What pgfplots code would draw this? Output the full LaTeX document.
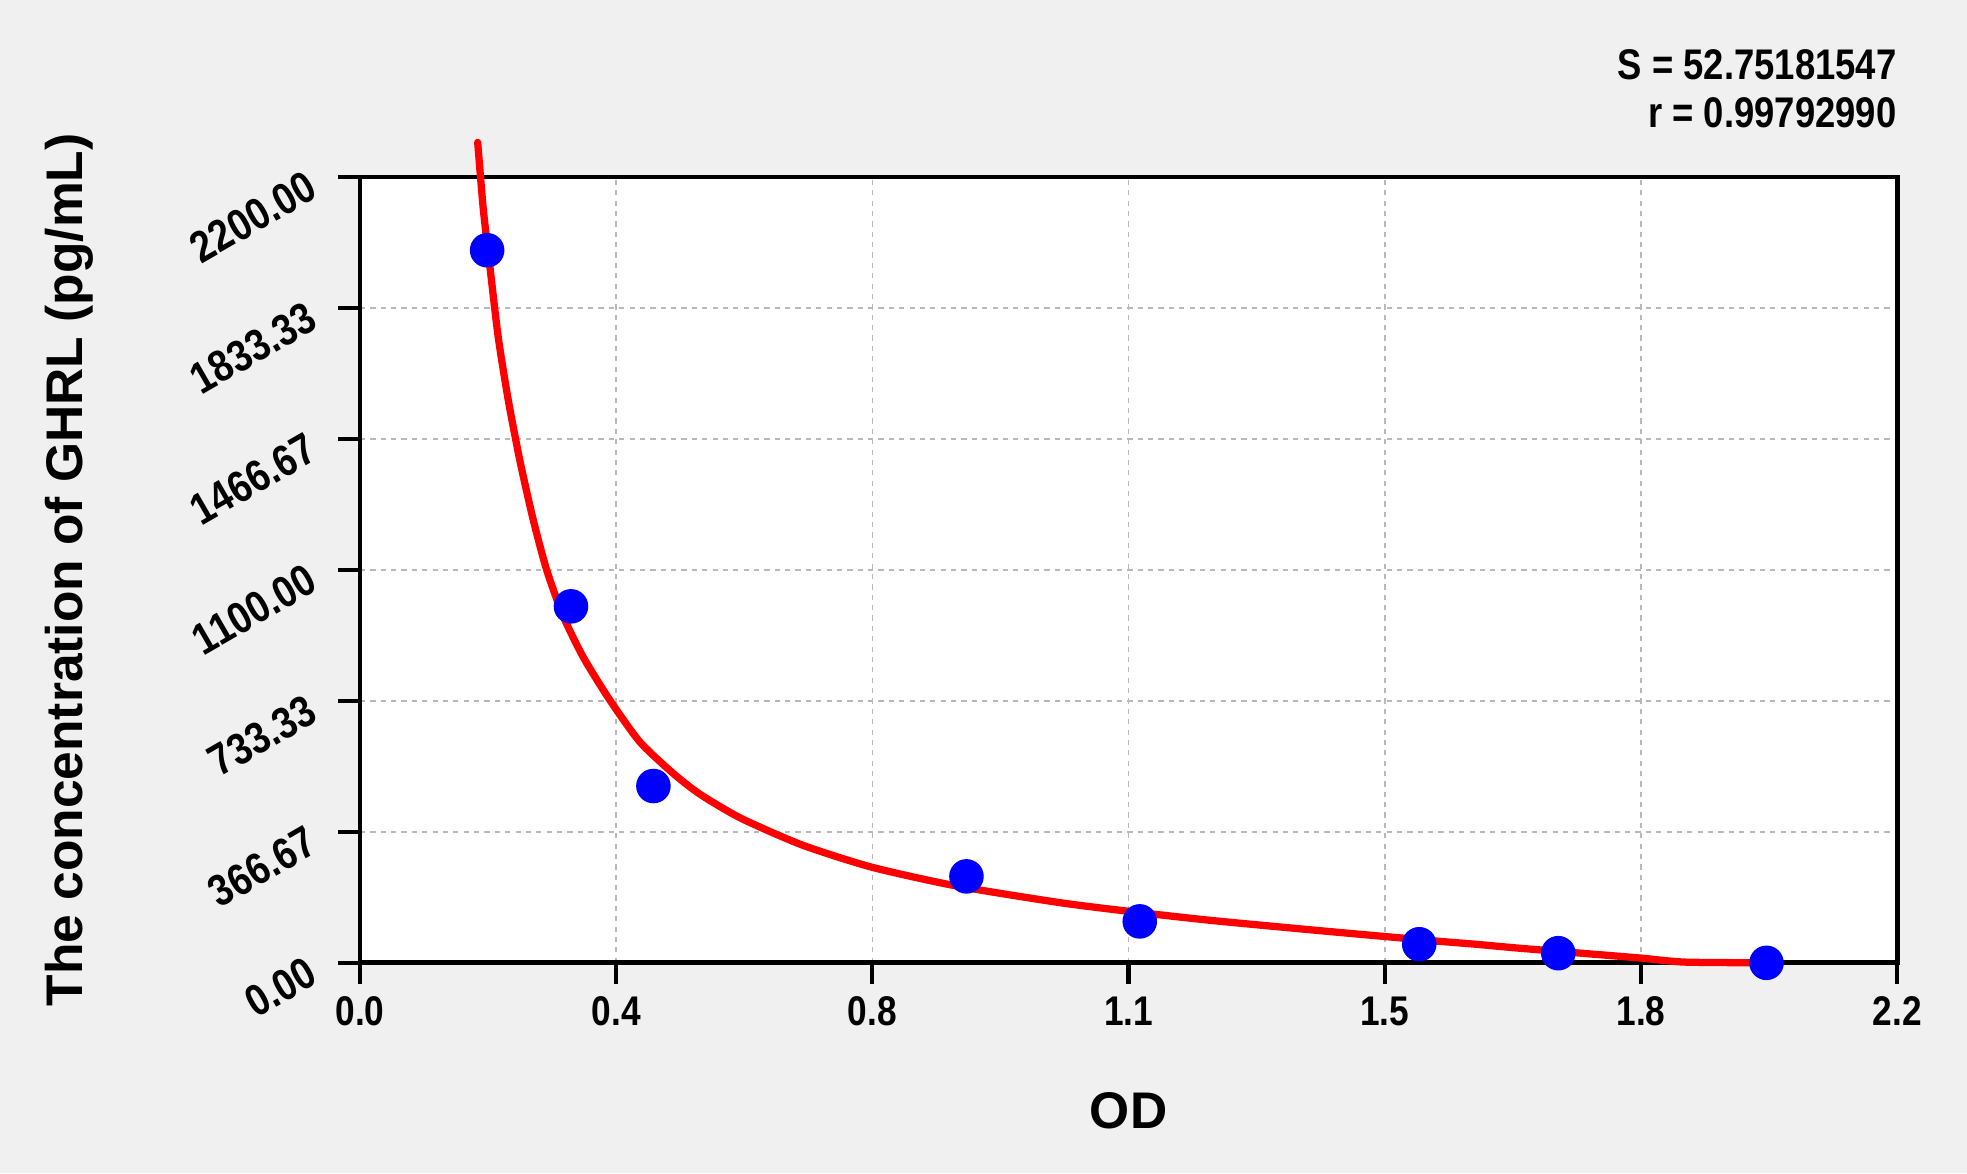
\documentclass[border=0pt]{standalone}
\usepackage{fontspec}
\setmainfont{Liberation Sans}
\newfontfamily\narrowfont[FakeStretch=0.85]{Liberation Sans}
\usepackage{pgfplots}
\pgfplotsset{compat=1.18}
\definecolor{bggray}{HTML}{F0F0F0}
\definecolor{ptblue}{HTML}{0000FF}
\definecolor{fitred}{HTML}{FF0000}

\begin{document}
\begin{tikzpicture}
\path[use as bounding box, fill=bggray] (-3.66,-2.14) rectangle (16.34,9.79);
\begin{axis}[
  at={(0,0)}, anchor=south west,
  width=15.63cm, height=7.99cm, scale only axis,
  xmin=0, xmax=2.2, ymin=0, ymax=2200,
  xtick={0,0.366667,0.733333,1.1,1.466667,1.833333,2.2},
  xticklabels={0.0,0.4,0.8,1.1,1.5,1.8,2.2},
  ytick={0,366.667,733.333,1100,1466.667,1833.333,2200},
  yticklabels={0.00,366.67,733.33,1100.00,1466.67,1833.33,2200.00},
  minor tick num=3,
  tick align=outside, tick pos=left,
  major tick length=0.22cm, minor tick length=0.15cm,
  tick style={black, line width=1.2pt},
  axis line style={black, line width=1.4pt},
  grid=major, grid style={dash pattern=on 1.5pt off 1.5pt, gray!55, line width=0.5pt},
  axis background/.style={fill=white},
  xticklabel style={font=\narrowfont\bfseries\fontsize{12}{14}\selectfont},
  yticklabel style={font=\narrowfont\bfseries\fontsize{12.8}{14}\selectfont, xshift=-0.16cm, rotate=30, anchor=east},
  xlabel={OD},
  ylabel={The concentration of GHRL (pg/mL)},
  label style={font=\bfseries\fontsize{14.9}{16}\selectfont},
  xlabel style={at={(axis description cs:0.5,-0.188)}, anchor=center},
  ylabel style={at={(axis description cs:-0.189,0.5)}, anchor=center},
  clip=false,
]
\addplot[only marks, mark=*, mark size=4.8pt, color=ptblue, mark options={fill=ptblue, draw=ptblue}] coordinates {
  (0.182,1995) (0.302,998) (0.420,495) (0.868,242)
  (1.116,116) (1.516,52) (1.715,27) (2.013,0)
};
\addplot[no marks, smooth, tension=0.4, color=fitred, line width=2.1pt, line join=round, line cap=round] coordinates {
  (0.1685,2297) (0.1765,2110) (0.1861,1947) (0.198,1750) (0.2123,1575)
  (0.229,1405) (0.248,1240) (0.2672,1100) (0.291,970) (0.3198,855)
  (0.3578,735) (0.4008,618) (0.4485,530) (0.4867,472) (0.545,405)
  (0.6327,330) (0.732,268) (0.8515,216) (1.0,169) (1.097,145)
  (1.217,119) (1.363,92) (1.465,74) (1.54,61) (1.597,52)
  (1.659,41) (1.773,23) (1.835,13) (1.897,2) (2.025,0)
};
\end{axis}
\node[anchor=east, inner sep=0pt, font=\narrowfont\bfseries\fontsize{12.4}{14}\selectfont] at (15.63,9.13) {S = 52.75181547};
\node[anchor=east, inner sep=0pt, font=\narrowfont\bfseries\fontsize{12.4}{14}\selectfont] at (15.63,8.64) {r = 0.99792990};
\end{tikzpicture}
\end{document}
